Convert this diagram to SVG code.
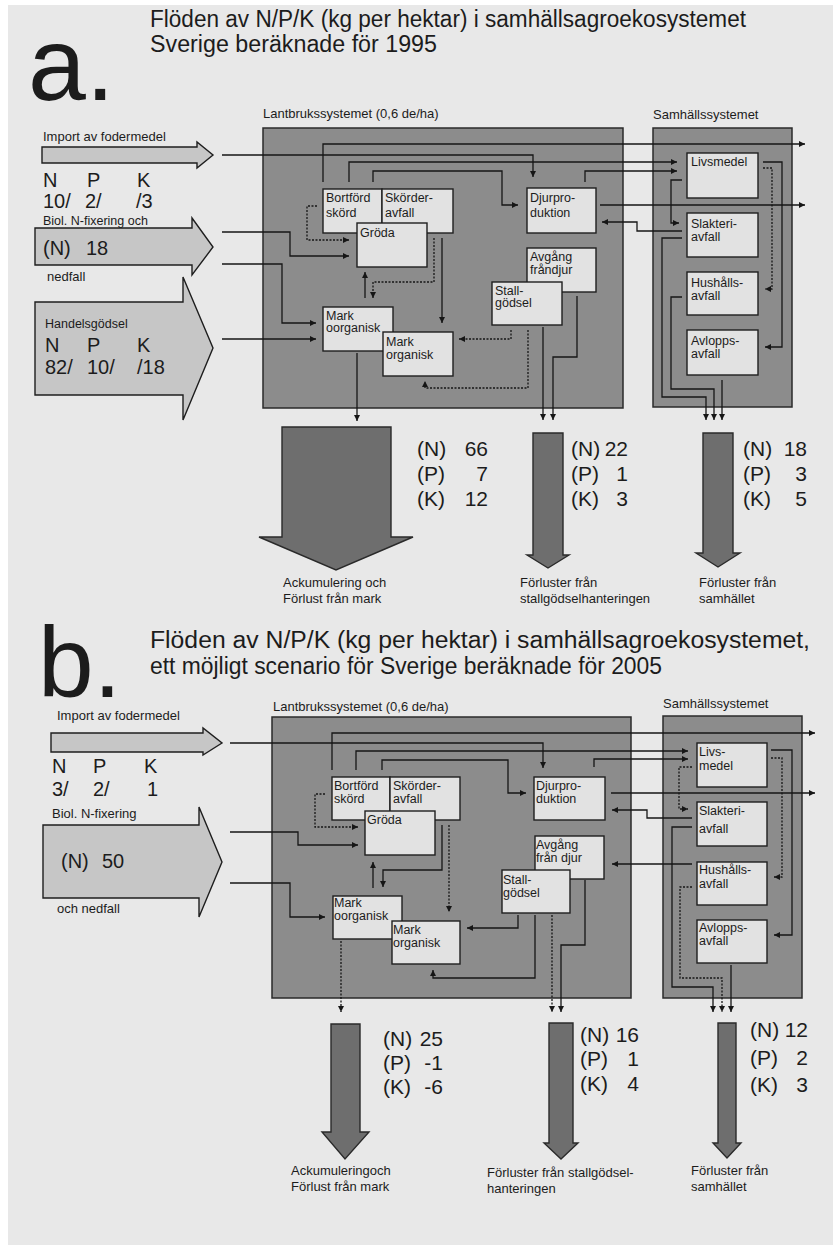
<svg xmlns="http://www.w3.org/2000/svg" width="833" height="1245" viewBox="0 0 833 1245">
  <style>
    .txt { font-family: "Liberation Sans", Arial, sans-serif; fill: #1c1c1c; }
    .big { font-size: 104px; }
    .title { font-size: 23px; }
    .sm { font-size: 13px; }
    .lbl { font-size: 12.5px; }
    .npk { font-size: 20px; }
    .val { font-size: 21px; }
    .sys { fill: #8c8c8c; stroke: #2a2a2a; stroke-width: 1.5; }
    .node { fill: #e2e2e2; stroke: #1e1e1e; stroke-width: 1.4; }
    .inflow { fill: #c6c6c6; stroke: #1e1e1e; stroke-width: 1.4; }
    .outflow { fill: #6e6e6e; stroke: #2a2a2a; stroke-width: 1.4; }
    .ln { fill: none; stroke: #161616; stroke-width: 1.3; }
    .dash { stroke-dasharray: 2 1.5; }
  </style>
  <defs>
    <marker id="ah" viewBox="0 0 10 10" refX="10" refY="5" markerWidth="7" markerHeight="6" markerUnits="userSpaceOnUse" orient="auto">
      <path d="M0,0 L10,5 L0,10 z" fill="#161616"/>
    </marker>
  </defs>

  <!-- paper -->
  <rect x="0" y="0" width="833" height="1245" fill="#ffffff"/>
  <rect x="8" y="5" width="825" height="1240" fill="#e8e8e8"/>

  <!-- ===================== part a ===================== -->
  <g id="a-heading">
    <text class="txt big" x="28" y="100">a.</text>
    <text class="txt title" x="150" y="27" textLength="596" lengthAdjust="spacingAndGlyphs">Flöden av N/P/K (kg per hektar) i samhällsagroekosystemet</text>
    <text class="txt title" x="150" y="52" textLength="287" lengthAdjust="spacingAndGlyphs">Sverige beräknade för 1995</text>
  </g>

  <g id="a-import">
    <text class="txt sm" x="43" y="141">Import av fodermedel</text>
    <polygon class="inflow" points="42,147 197,147 197,142 213,155 197,168 197,163 42,163"/>
    <text class="txt npk" x="43" y="187">N</text>
    <text class="txt npk" x="87" y="187">P</text>
    <text class="txt npk" x="137" y="187">K</text>
    <text class="txt npk" x="43" y="208">10/</text>
    <text class="txt npk" x="85" y="208">2/</text>
    <text class="txt npk" x="136" y="208">/3</text>
  </g>

  <g id="a-nfix">
    <text class="txt" font-size="12.5" x="43" y="225">Biol. N-fixering och</text>
    <polygon class="inflow" points="35,228 192,228 192,218 213,247 192,275 192,265 35,265"/>
    <text class="txt npk" x="43" y="255">(N)</text>
    <text class="txt npk" x="86" y="255">18</text>
    <text class="txt sm" x="47" y="281">nedfall</text>
  </g>

  <g id="a-handel">
    <polygon class="inflow" points="35,302 183,302 183,277 213,348 183,420 183,395 35,395"/>
    <text class="txt" font-size="12.5" x="45" y="328">Handelsgödsel</text>
    <text class="txt npk" x="45" y="352">N</text>
    <text class="txt npk" x="87" y="352">P</text>
    <text class="txt npk" x="137" y="352">K</text>
    <text class="txt npk" x="45" y="374">82/</text>
    <text class="txt npk" x="87" y="374">10/</text>
    <text class="txt npk" x="137" y="374">/18</text>
  </g>

  <g id="a-lantbruk">
    <text class="txt sm" x="263" y="118">Lantbrukssystemet (0,6 de/ha)</text>
    <rect class="sys" x="263" y="128" width="360" height="280"/>
  </g>
  <g id="a-samhalle">
    <text class="txt sm" x="653" y="119">Samhällssystemet</text>
    <rect class="sys" x="653" y="128" width="139" height="279"/>
  </g>

  <g id="a-bortford">
    <rect class="node" x="323" y="189" width="59" height="44"/>
    <text class="txt lbl" x="326" y="202">Bortförd</text>
    <text class="txt lbl" x="326" y="217">skörd</text>
  </g>
  <g id="a-skorder">
    <rect class="node" x="382" y="189" width="71" height="44"/>
    <text class="txt lbl" x="385" y="202">Skörder-</text>
    <text class="txt lbl" x="385" y="217">avfall</text>
  </g>
  <g id="a-groda">
    <rect class="node" x="357" y="223" width="70" height="44"/>
    <text class="txt lbl" x="360" y="237">Gröda</text>
  </g>
  <g id="a-djur">
    <rect class="node" x="527" y="188" width="69" height="45"/>
    <text class="txt lbl" x="530" y="202">Djurpro-</text>
    <text class="txt lbl" x="530" y="217">duktion</text>
  </g>
  <g id="a-avgang">
    <rect class="node" x="527" y="248" width="69" height="44"/>
    <text class="txt lbl" x="530" y="261">Avgång</text>
    <text class="txt lbl" x="530" y="274">fråndjur</text>
  </g>
  <g id="a-stall">
    <rect class="node" x="492" y="282" width="70" height="43"/>
    <text class="txt lbl" x="495" y="295">Stall-</text>
    <text class="txt lbl" x="495" y="307">gödsel</text>
  </g>
  <g id="a-markoorg">
    <rect class="node" x="323" y="307" width="70" height="44"/>
    <text class="txt lbl" x="326" y="320">Mark</text>
    <text class="txt lbl" x="326" y="332">oorganisk</text>
  </g>
  <g id="a-markorg">
    <rect class="node" x="383" y="332" width="70" height="44"/>
    <text class="txt lbl" x="386" y="346">Mark</text>
    <text class="txt lbl" x="386" y="359">organisk</text>
  </g>
  <g id="a-livsmedel">
    <rect class="node" x="687" y="153" width="71" height="45"/>
    <text class="txt lbl" x="691" y="166">Livsmedel</text>
  </g>
  <g id="a-slakteri">
    <rect class="node" x="687" y="213" width="71" height="44"/>
    <text class="txt lbl" x="691" y="228">Slakteri-</text>
    <text class="txt lbl" x="691" y="241">avfall</text>
  </g>
  <g id="a-hushall">
    <rect class="node" x="687" y="272" width="71" height="43"/>
    <text class="txt lbl" x="691" y="287">Hushålls-</text>
    <text class="txt lbl" x="691" y="300">avfall</text>
  </g>
  <g id="a-avlopp">
    <rect class="node" x="687" y="330" width="71" height="45"/>
    <text class="txt lbl" x="691" y="345">Avlopps-</text>
    <text class="txt lbl" x="691" y="358">avfall</text>
  </g>

  <g id="a-out-mark">
    <polygon class="outflow" points="282,427 391,427 391,537 413,537 336,570 259,537 282,537"/>
    <text class="txt sm" x="283" y="587">Ackumulering och</text>
    <text class="txt sm" x="283" y="603">Förlust från mark</text>
    <text class="txt val" x="417" y="456">(N)</text>
    <text class="txt val" x="488" y="456" text-anchor="end">66</text>
    <text class="txt val" x="417" y="481">(P)</text>
    <text class="txt val" x="488" y="481" text-anchor="end">7</text>
    <text class="txt val" x="417" y="506">(K)</text>
    <text class="txt val" x="488" y="506" text-anchor="end">12</text>
  </g>
  <g id="a-out-stall">
    <polygon class="outflow" points="533,433 563,433 563,555 569,555 548,568 527,555 533,555"/>
    <text class="txt sm" x="520" y="587">Förluster från</text>
    <text class="txt sm" x="520" y="603">stallgödselhanteringen</text>
    <text class="txt val" x="571" y="456">(N)</text>
    <text class="txt val" x="628" y="456" text-anchor="end">22</text>
    <text class="txt val" x="571" y="481">(P)</text>
    <text class="txt val" x="628" y="481" text-anchor="end">1</text>
    <text class="txt val" x="571" y="506">(K)</text>
    <text class="txt val" x="628" y="506" text-anchor="end">3</text>
  </g>
  <g id="a-out-samhalle">
    <polygon class="outflow" points="703,433 733,433 733,553 740,553 718,567 696,553 703,553"/>
    <text class="txt sm" x="699" y="587">Förluster från</text>
    <text class="txt sm" x="699" y="603">samhället</text>
    <text class="txt val" x="743" y="456">(N)</text>
    <text class="txt val" x="807" y="456" text-anchor="end">18</text>
    <text class="txt val" x="743" y="481">(P)</text>
    <text class="txt val" x="807" y="481" text-anchor="end">3</text>
    <text class="txt val" x="743" y="506">(K)</text>
    <text class="txt val" x="807" y="506" text-anchor="end">5</text>
  </g>

  <g id="a-connectors">
    <path class="ln" d="M222,155 H533 V177" marker-end="url(#ah)"/>
    <path class="ln" d="M323,182 V144 H805" marker-end="url(#ah)"/>
    <path class="ln" d="M349,182 V162 H677" marker-end="url(#ah)"/>
    <path class="ln" d="M373,182 V171 H502 V205 H518" marker-end="url(#ah)"/>
    <path class="ln" d="M585,182 V171 H677" marker-end="url(#ah)"/>
    <path class="ln" d="M600,205 H805" marker-end="url(#ah)"/>
    <path class="ln" d="M682,231 H637 V222 H602" marker-end="url(#ah)"/>
    <path class="ln dash" d="M317,206 H307 V240 H349" marker-end="url(#ah)"/>
    <path class="ln" d="M222,232 H290 V256 H349" marker-end="url(#ah)"/>
    <path class="ln" d="M222,264 H282 V323 H316" marker-end="url(#ah)"/>
    <path class="ln" d="M222,339 H316" marker-end="url(#ah)"/>
    <path class="ln" d="M365,298 V272" marker-end="url(#ah)"/>
    <path class="ln dash" d="M434,238 V282 H373 V298" marker-end="url(#ah)"/>
    <path class="ln" d="M442,238 V323" marker-end="url(#ah)"/>
    <path class="ln dash" d="M511,330 V339 H459" marker-end="url(#ah)"/>
    <path class="ln dash" d="M528,330 V388 H425 V381" marker-end="url(#ah)"/>
    <path class="ln" d="M543,327 V420" marker-end="url(#ah)"/>
    <path class="ln" d="M577,296 V357 H553 V420" marker-end="url(#ah)"/>
    <path class="ln" d="M357,353 V421" marker-end="url(#ah)"/>
    <path class="ln" d="M682,180 H671 V223 H679" marker-end="url(#ah)"/>
    <path class="ln" d="M682,238 H662 V397 H706 V420" marker-end="url(#ah)"/>
    <path class="ln" d="M682,297 H671 V389 H714 V420" marker-end="url(#ah)"/>
    <path class="ln" d="M722,380 V420" marker-end="url(#ah)"/>
    <path class="ln" d="M763,162 H782 V347 H765" marker-end="url(#ah)"/>
    <path class="ln dash" d="M763,168 H772 V289 H765" marker-end="url(#ah)"/>
  </g>

  <!-- ===================== part b ===================== -->
  <g id="b-heading">
    <text class="txt" font-size="100" x="38" y="697">b.</text>
    <text class="txt title" x="150" y="648" textLength="660" lengthAdjust="spacingAndGlyphs">Flöden av N/P/K (kg per hektar) i samhällsagroekosystemet,</text>
    <text class="txt title" x="150" y="674" textLength="512" lengthAdjust="spacingAndGlyphs">ett möjligt scenario för Sverige beräknade för 2005</text>
  </g>

  <g id="b-import">
    <text class="txt sm" x="57" y="720">Import av fodermedel</text>
    <polygon class="inflow" points="51,733 203,733 203,728 222,743 203,755 203,752 51,752"/>
    <text class="txt npk" x="52" y="773">N</text>
    <text class="txt npk" x="93" y="773">P</text>
    <text class="txt npk" x="144" y="773">K</text>
    <text class="txt npk" x="52" y="796">3/</text>
    <text class="txt npk" x="93" y="796">2/</text>
    <text class="txt npk" x="147" y="796">1</text>
  </g>

  <g id="b-nfix">
    <text class="txt sm" x="52" y="818">Biol. N-fixering</text>
    <polygon class="inflow" points="43,825 199,825 199,807 222,862 199,917 199,898 43,898"/>
    <text class="txt npk" x="61" y="868">(N)</text>
    <text class="txt npk" x="102" y="868">50</text>
    <text class="txt sm" x="57" y="913">och nedfall</text>
  </g>

  <g id="b-lantbruk">
    <text class="txt sm" x="273" y="711">Lantbrukssystemet (0,6 de/ha)</text>
    <rect class="sys" x="272" y="717" width="359" height="281"/>
  </g>
  <g id="b-samhalle">
    <text class="txt sm" x="663" y="708">Samhällssystemet</text>
    <rect class="sys" x="663" y="716" width="139" height="282"/>
  </g>

  <g id="b-bortford">
    <rect class="node" x="332" y="777" width="58" height="43"/>
    <text class="txt lbl" x="334" y="790">Bortförd</text>
    <text class="txt lbl" x="334" y="803">skörd</text>
  </g>
  <g id="b-skorder">
    <rect class="node" x="390" y="777" width="70" height="43"/>
    <text class="txt lbl" x="393" y="790">Skörder-</text>
    <text class="txt lbl" x="393" y="803">avfall</text>
  </g>
  <g id="b-groda">
    <rect class="node" x="365" y="811" width="70" height="44"/>
    <text class="txt lbl" x="367" y="824">Gröda</text>
  </g>
  <g id="b-djur">
    <rect class="node" x="534" y="777" width="71" height="43"/>
    <text class="txt lbl" x="536" y="790">Djurpro-</text>
    <text class="txt lbl" x="536" y="803">duktion</text>
  </g>
  <g id="b-avgang">
    <rect class="node" x="535" y="836" width="69" height="43"/>
    <text class="txt lbl" x="536" y="849">Avgång</text>
    <text class="txt lbl" x="536" y="862">från djur</text>
  </g>
  <g id="b-stall">
    <rect class="node" x="502" y="870" width="68" height="43"/>
    <text class="txt lbl" x="503" y="884">Stall-</text>
    <text class="txt lbl" x="503" y="897">gödsel</text>
  </g>
  <g id="b-markoorg">
    <rect class="node" x="333" y="896" width="69" height="43"/>
    <text class="txt lbl" x="334" y="907">Mark</text>
    <text class="txt lbl" x="334" y="920">oorganisk</text>
  </g>
  <g id="b-markorg">
    <rect class="node" x="392" y="921" width="68" height="43"/>
    <text class="txt lbl" x="393" y="934">Mark</text>
    <text class="txt lbl" x="393" y="947">organisk</text>
  </g>
  <g id="b-livsmedel">
    <rect class="node" x="697" y="743" width="70" height="44"/>
    <text class="txt lbl" x="699" y="756">Livs-</text>
    <text class="txt lbl" x="699" y="770">medel</text>
  </g>
  <g id="b-slakteri">
    <rect class="node" x="697" y="802" width="70" height="44"/>
    <text class="txt lbl" x="699" y="815">Slakteri-</text>
    <text class="txt lbl" x="699" y="833">avfall</text>
  </g>
  <g id="b-hushall">
    <rect class="node" x="697" y="862" width="70" height="43"/>
    <text class="txt lbl" x="699" y="874">Hushålls-</text>
    <text class="txt lbl" x="699" y="888">avfall</text>
  </g>
  <g id="b-avlopp">
    <rect class="node" x="697" y="920" width="70" height="43"/>
    <text class="txt lbl" x="699" y="932">Avlopps-</text>
    <text class="txt lbl" x="699" y="945">avfall</text>
  </g>

  <g id="b-out-mark">
    <polygon class="outflow" points="331,1024 360,1024 360,1132 369,1132 345,1159 322,1132 331,1132"/>
    <text class="txt sm" x="291" y="1175">Ackumuleringoch</text>
    <text class="txt sm" x="291" y="1191">Förlust från mark</text>
    <text class="txt val" x="383" y="1046">(N)</text>
    <text class="txt val" x="443" y="1046" text-anchor="end">25</text>
    <text class="txt val" x="383" y="1070">(P)</text>
    <text class="txt val" x="443" y="1070" text-anchor="end">-1</text>
    <text class="txt val" x="383" y="1094">(K)</text>
    <text class="txt val" x="443" y="1094" text-anchor="end">-6</text>
  </g>
  <g id="b-out-stall">
    <polygon class="outflow" points="549,1023 573,1023 573,1143 578,1143 561,1159 544,1143 549,1143"/>
    <text class="txt sm" x="487" y="1177">Förluster från stallgödsel-</text>
    <text class="txt sm" x="487" y="1193">hanteringen</text>
    <text class="txt val" x="580" y="1042">(N)</text>
    <text class="txt val" x="639" y="1042" text-anchor="end">16</text>
    <text class="txt val" x="580" y="1066">(P)</text>
    <text class="txt val" x="639" y="1066" text-anchor="end">1</text>
    <text class="txt val" x="580" y="1091">(K)</text>
    <text class="txt val" x="639" y="1091" text-anchor="end">4</text>
  </g>
  <g id="b-out-samhalle">
    <polygon class="outflow" points="718,1023 736,1023 736,1143 741,1143 727,1158 713,1143 718,1143"/>
    <text class="txt sm" x="691" y="1175">Förluster från</text>
    <text class="txt sm" x="691" y="1191">samhället</text>
    <text class="txt val" x="750" y="1037">(N)</text>
    <text class="txt val" x="808" y="1037" text-anchor="end">12</text>
    <text class="txt val" x="750" y="1065">(P)</text>
    <text class="txt val" x="808" y="1065" text-anchor="end">2</text>
    <text class="txt val" x="750" y="1092">(K)</text>
    <text class="txt val" x="808" y="1092" text-anchor="end">3</text>
  </g>

  <g id="b-connectors">
    <path class="ln" d="M230,743 H543 V768" marker-end="url(#ah)"/>
    <path class="ln" d="M332,770 V733 H815" marker-end="url(#ah)"/>
    <path class="ln" d="M356,770 V751 H688" marker-end="url(#ah)"/>
    <path class="ln" d="M382,770 V760 H508 V793 H526" marker-end="url(#ah)"/>
    <path class="ln" d="M594,767 V759 H688" marker-end="url(#ah)"/>
    <path class="ln" d="M611,793 H815" marker-end="url(#ah)"/>
    <path class="ln" d="M692,818 H647 V810 H612" marker-end="url(#ah)"/>
    <path class="ln" d="M692,864 H612" marker-end="url(#ah)"/>
    <path class="ln dash" d="M325,794 H315 V827 H358" marker-end="url(#ah)"/>
    <path class="ln" d="M230,832 H298 V845 H358" marker-end="url(#ah)"/>
    <path class="ln" d="M230,883 H290 V917 H325" marker-end="url(#ah)"/>
    <path class="ln" d="M373,888 V862" marker-end="url(#ah)"/>
    <path class="ln" d="M442,825 V870 H383 V887" marker-end="url(#ah)"/>
    <path class="ln dash" d="M449,825 V912" marker-end="url(#ah)"/>
    <path class="ln" d="M518,915 V928 H467" marker-end="url(#ah)"/>
    <path class="ln" d="M535,915 V978 H433 V970" marker-end="url(#ah)"/>
    <path class="ln dash" d="M552,915 V1012" marker-end="url(#ah)"/>
    <path class="ln" d="M585,880 V945 H561 V1012" marker-end="url(#ah)"/>
    <path class="ln dash" d="M341,941 V1012" marker-end="url(#ah)"/>
    <path class="ln dash" d="M692,767 H679 V809 H688" marker-end="url(#ah)"/>
    <path class="ln" d="M692,827 H672 V987 H713 V1012" marker-end="url(#ah)"/>
    <path class="ln dash" d="M692,887 H680 V978 H722 V1012" marker-end="url(#ah)"/>
    <path class="ln" d="M731,965 V1012" marker-end="url(#ah)"/>
    <path class="ln" d="M771,750 H792 V935 H774" marker-end="url(#ah)"/>
    <path class="ln dash" d="M771,758 H782 V877 H774" marker-end="url(#ah)"/>
  </g>
</svg>
